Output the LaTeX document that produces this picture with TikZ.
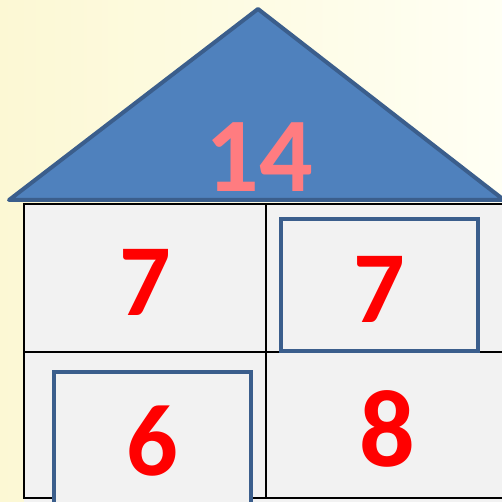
\documentclass[tikz,border=0pt]{standalone}
\usepackage{fontspec}
\setmainfont{Carlito}
\definecolor{roofblue}{HTML}{4F81BD}
\definecolor{roofedge}{HTML}{3B5E8C}
\definecolor{wallgray}{HTML}{F2F2F2}
\definecolor{salmon}{HTML}{FF7C80}
\definecolor{bgleft}{HTML}{FCF8D4}
\definecolor{bgright}{HTML}{FFFFF4}
\tikzset{
  digit/.style={inner sep=0pt, text=red, font=\bfseries\fontsize{102}{102}\selectfont},
  innerbox/.style={draw=roofedge, line width=4pt},
  grid/.style={draw=black, line width=2pt}
}
\begin{document}
\begin{tikzpicture}[x=1pt,y=-1pt]
\useasboundingbox (0,0) rectangle (502,502);
\shade[left color=bgleft, right color=bgright] (0,0) rectangle (502,502);
% house body
\fill[wallgray] (24,204) rectangle (510,510);
\draw[grid] (510,204) -- (24,204) -- (24,498) -- (510,498);
\draw[grid] (266,204) -- (266,498);
\draw[grid] (24,352) -- (510,352);
% inner boxes
\draw[innerbox] (281,219) rectangle (478,351);
\draw[innerbox,fill=wallgray] (54,372) rectangle (251,520);
% roof
\coordinate (L) at (9,200);
\coordinate (A) at (258,9);
\coordinate (R) at (504,200);
\draw[fill=roofblue, draw=roofedge, line width=4pt, line join=round] (L) -- (A) -- (R) -- cycle;
% numbers
\node[digit, text=salmon, font=\bfseries\fontsize{106}{106}\selectfont] (n14) at (259,157) {14};
\node[digit] (a) at (145,282) {7};
\node[digit] (b) at (379,289) {7};
\node[digit] (c) at (152,441) {6};
\node[digit, font=\bfseries\fontsize{110}{110}\selectfont] (d) at (387,429) {8};
\end{tikzpicture}
\end{document}
